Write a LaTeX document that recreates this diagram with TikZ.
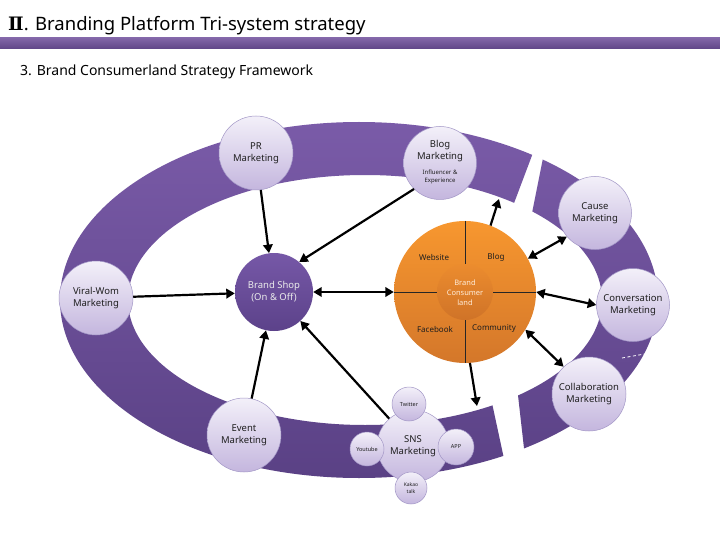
\documentclass[tikz,border=0pt]{standalone}
\usepackage{fontspec}
\setmainfont{Noto Sans}
\newfontfamily\dejavu{DejaVu Serif}
\usetikzlibrary{arrows.meta}
\definecolor{ringTop}{HTML}{7A5BA8}
\definecolor{ringBot}{HTML}{5A4185}
\definecolor{bubTop}{HTML}{F3F0F9}
\definecolor{bubBot}{HTML}{C4B6DE}
\definecolor{bubLine}{HTML}{A296C6}
\definecolor{shopTop}{HTML}{7658A7}
\definecolor{shopBot}{HTML}{5C428A}
\definecolor{orTop}{HTML}{F7972F}
\definecolor{orBot}{HTML}{D4772A}
\definecolor{orInTop}{HTML}{EC8C2E}
\definecolor{orInBot}{HTML}{CF7328}
\definecolor{barTop}{HTML}{8266A8}
\definecolor{barBot}{HTML}{5F4587}
\definecolor{txt}{HTML}{1E1E1E}
\begin{document}
\begin{tikzpicture}[x=1pt,y=-1pt,
  bub/.style={circle, minimum size=74pt, inner sep=0pt, top color=bubTop, bottom color=bubBot,
    draw=bubLine, line width=0.5pt, align=center, text=txt, font=\fontsize{9.5}{11.5}\selectfont},
  smallbub/.style={bub, minimum size=34pt, font=\fontsize{5.5}{6.5}\selectfont},
  lab/.style={inner sep=0pt, text=txt, font=\fontsize{8}{10}\selectfont},
  divline/.style={draw=black!85, line width=0.7pt},
  arr/.style={draw=black, line width=2.2pt, -{Triangle[length=8.5pt,width=9.5pt]}},
  darr/.style={draw=black, line width=2.2pt, {Triangle[length=8.5pt,width=9.5pt]}-{Triangle[length=8.5pt,width=9.5pt]}}
]
\useasboundingbox (0,0) rectangle (720,540);
\fill[white] (0,0) rectangle (720,540);

% title bar and headings
\shade[top color=barTop, bottom color=barBot] (0,38) rectangle (720,49);
\node[anchor=base west, inner sep=0pt, text=black, font=\fontsize{18.5}{21}\selectfont] (title) at (8,31)
  {{\dejavu\bfseries Ⅱ}. Branding Platform Tri-system strategy};
\node[anchor=base west, inner sep=0pt, text=black, font=\fontsize{14}{16}\selectfont] (sub) at (20,76)
  {3. Brand Consumerland Strategy Framework};

% main ring
\begin{scope}
  \clip (0,60) -- (568,60) -- (477.5,300) -- (469.8,300) -- (521.5,540) -- (0,540) -- cycle;
  \shade[top color=ringTop, bottom color=ringBot, even odd rule]
    (359,300) ellipse [x radius=299pt, y radius=178pt]
    (365,300) ellipse [x radius=237pt, y radius=125pt];
\end{scope}
% right ring segment
\begin{scope}
  \clip (562.6,60) -- (720,60) -- (720,540) -- (534.4,540) -- (507.2,300) -- (514.6,300) -- cycle;
  \shade[top color=ringTop, bottom color=ringBot, even odd rule]
    (359,300) ellipse [x radius=299pt, y radius=178pt]
    (365,300) ellipse [x radius=237pt, y radius=125pt];
\end{scope}
\draw[white, line width=0.8pt, dash pattern=on 3pt off 2.5pt] (622,358) -- (656,352);

% outer bubbles
\node[bub] (pr) at (256,153) {PR\\Marketing};
\node[bub, minimum size=73pt] (blog) at (440,163) {};
\node[inner sep=0pt, align=center, text=txt, font=\fontsize{9.5}{11.5}\selectfont] (blogt) at (440,151) {Blog\\Marketing};
\node[inner sep=0pt, align=center, text=txt, font=\fontsize{6}{8.5}\selectfont] (blogs) at (440,177) {Influencer \&\\Experience};
\node[bub, minimum size=73pt] (cause) at (595,213) {Cause\\Marketing};
\node[bub, minimum size=73pt] (conv) at (633,305) {Conversation\\Marketing};
\node[bub] (collab) at (589,394) {Collaboration\\Marketing};
\node[bub] (viral) at (96,298) {Viral-Wom\\Marketing};
\node[bub] (event) at (244,435) {Event\\Marketing};

% SNS group
\node[bub, minimum size=72pt] (sns) at (413,446) {SNS\\Marketing};
\node[smallbub] (tw) at (409,404) {Twitter};
\node[smallbub] (yt) at (367,449) {Youtube};
\node[smallbub, minimum size=36pt] (app) at (456,447) {APP};
\node[smallbub, minimum size=32pt, font=\fontsize{5}{6.5}\selectfont] (kk) at (411,488) {Kakao\\talk};

% brand shop
\node[circle, minimum size=78pt, inner sep=0pt, top color=shopTop, bottom color=shopBot,
  text=white!92!black, align=center, font=\fontsize{9.5}{12}\selectfont] (shop) at (274,292) {Brand Shop\\(On \& Off)};

% brand consumerland
\node[circle, minimum size=142pt, inner sep=0pt, top color=orTop, bottom color=orBot] (cl) at (465,292) {};
\node[circle, minimum size=56pt, inner sep=0pt, top color=orInTop, bottom color=orInBot] (clin) at (465,292) {};
\node[inner sep=0pt, align=center, text=orange!15!white, font=\fontsize{7.5}{10}\selectfont] (clt) at (465,293) {Brand\\Consumer\\land};
\draw[divline] (cl.north) -- (clin.north);
\draw[divline] (clin.south) -- (cl.south);
\draw[divline] (cl.west) -- (clin.west);
\draw[divline] (clin.east) -- (cl.east);
\node[lab] (lweb) at (434,257) {Website};
\node[lab] (lblog) at (496,257) {Blog};
\node[lab] (lfb) at (435,329) {Facebook};
\node[lab] (lcom) at (494,329) {Community};

% connectors
\coordinate (upend) at (499,199);
\coordinate (downend) at (477,406);
\draw[arr] (pr) -- (shop);
\draw[arr] (blog.225) -- (shop.50);
\draw[arr] (viral) -- (shop);
\draw[arr] (event) -- (shop);
\draw[arr] (sns.131) -- (shop);
\draw[darr] (shop) -- (cl);
\draw[arr] (cl.69) -- (upend);
\draw[arr] (cl.-86) -- (downend);
\draw[darr] (cl.28) -- (cause.220);
\draw[darr] (cl.east) -- (conv.west);
\draw[darr] (cl.-32) -- (collab.133);
\end{tikzpicture}
\end{document}
